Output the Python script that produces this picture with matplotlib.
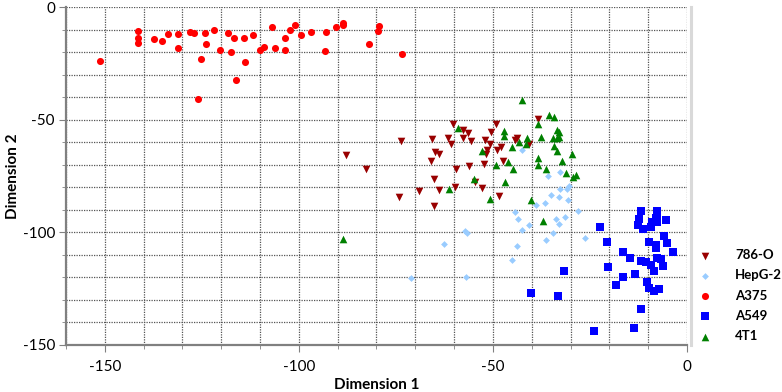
import matplotlib
matplotlib.use("Agg")
import matplotlib.pyplot as plt
from matplotlib.ticker import MultipleLocator

plt.rcParams['font.family'] = ['Lato', 'DejaVu Sans']
plt.rcParams['axes.unicode_minus'] = False

# ---- data ----
o786_x = [-87.9, -82.8, -74.2, -73.7, -69.0, -66.0, -65.8, -65.1, -65.2, -65.0, -63.8, -63.8, -61.7,
          -60.9, -60.2, -59.8, -59.5, -57.7, -57.6, -56.3, -56.1, -55.7, -54.7, -52.7, -52.3, -52.0,
          -51.9, -51.4, -50.7, -50.5, -49.1, -49.0, -48.0, -48.4, -47.5, -44.3, -43.7, -40.6, -38.4]
o786_y = [-65.7, -72.0, -84.4, -59.6, -81.6, -68.3, -58.4, -76.1, -88.3, -64.5, -65.4, -81.2, -58.1,
          -61.0, -51.8, -79.7, -71.9, -54.5, -57.9, -56.1, -70.5, -59.5, -77.8, -80.2, -69.6, -59.1,
          -65.2, -63.4, -60.9, -55.3, -51.7, -63.5, -62.2, -83.9, -68.2, -58.9, -58.0, -61.0, -49.7]

hepg2_x = [-71.1, -62.6, -57.1, -56.7, -56.9, -45.1, -44.2, -43.6, -43.8, -42.6, -42.4, -40.8, -38.8,
           -36.6, -36.3, -35.7, -35.0, -34.6, -33.8, -33.0, -32.9, -32.7, -32.7, -31.5, -31.0, -30.4,
           -30.6, -28.1, -26.3]
hepg2_y = [-120.1, -105.2, -99.6, -100.5, -119.9, -112.4, -91.1, -94.2, -105.9, -63.4, -98.8, -96.8, -87.9,
           -86.8, -103.4, -75.0, -83.6, -100.2, -94.2, -96.3, -84.2, -73.4, -80.6, -93.3, -80.9, -79.4,
           -85.8, -90.4, -102.4]

a375_x = [-151.2, -141.5, -141.5, -141.5, -137.2, -135.3, -133.6, -131.1, -131.1, -128.1, -127.0, -125.2,
          -126.1, -124.2, -124.0, -121.9, -120.4, -118.3, -117.4, -116.7, -116.1, -114.2, -113.9, -111.7,
          -109.9, -108.9, -106.9, -106.2, -103.7, -103.6, -102.4, -101.0, -99.5, -96.9, -93.2, -92.9,
          -90.4, -88.6, -88.6, -82.0, -79.7, -79.3, -73.3]
a375_y = [-23.8, -10.7, -13.8, -16.1, -14.1, -15.0, -11.8, -12.1, -18.3, -11.2, -11.5, -22.9,
          -41.0, -11.4, -16.6, -10.1, -19.2, -11.5, -19.8, -13.8, -32.4, -13.8, -24.3, -12.3,
          -19.1, -17.8, -8.7, -18.1, -13.8, -19.2, -10.4, -7.8, -12.4, -11.0, -19.5, -11.2,
          -8.7, -7.2, -8.1, -16.6, -10.7, -8.3, -20.9]

a549_x = [-11.8, -7.7, -7.8, -8.1, -12.3, -9.0, -7.6, -5.3, -12.5, -11.3, -9.3, -22.4, -20.7, -9.8,
          -5.8, -5.2, -8.1, -7.9, -3.7, -16.6, -14.6, -11.8, -10.5, -7.6, -6.7, -9.3, -8.5, -6.3,
          -20.4, -13.4, -16.5, -18.2, -10.3, -9.7, -8.5, -7.3, -11.8, -13.6, -23.9, -31.8, -40.2, -33.2]
a549_y = [-90.4, -90.4, -92.3, -93.8, -94.2, -95.3, -95.3, -94.7, -96.8, -98.5, -97.5, -97.5, -104.2, -104.2,
          -101.8, -104.6, -105.6, -106.8, -108.9, -108.6, -111.3, -112.7, -113.0, -111.3, -111.9, -114.5, -117.0, -115.1,
          -115.4, -118.5, -119.7, -123.4, -122.1, -124.6, -125.9, -125.2, -133.9, -142.5, -144.0, -117.2, -126.8, -128.3]

t41_x = [-88.6, -61.4, -59.1, -54.8, -52.9, -50.7, -49.2, -47.1, -47.1, -47.0, -46.0, -45.0, -44.7,
         -43.4, -42.6, -41.5, -41.2, -40.2, -38.4, -38.5, -38.4, -37.6, -37.1, -36.3, -35.6, -34.3,
         -34.3, -34.4, -33.6, -33.5, -33.5, -32.9, -32.9, -32.3, -31.2, -29.7, -29.4, -28.7]
t41_y = [-103.1, -80.8, -53.6, -76.2, -64.0, -85.3, -70.0, -55.2, -57.1, -77.6, -68.6, -62.3, -72.0,
         -59.7, -41.2, -60.7, -57.9, -85.5, -51.8, -66.8, -70.0, -57.6, -95.0, -71.8, -48.1, -48.8,
         -61.8, -58.3, -63.9, -54.6, -58.0, -55.4, -57.6, -68.5, -73.8, -65.2, -75.3, -74.7]

series_names = ['786-O', 'HepG-2', 'A375', 'A549', '4T1']

fig = plt.figure(figsize=(7.82, 3.92), dpi=100)
ax = fig.add_axes([0.0844, 0.1199, 0.7941, 0.8621])

ax.scatter(o786_x, o786_y, marker='v', s=30, color='#990000', label=series_names[0], zorder=3, linewidths=0)
ax.scatter(hepg2_x, hepg2_y, marker='D', s=12, color='#99ccff', label=series_names[1], zorder=3, linewidths=0)
ax.scatter(a375_x, a375_y, marker='o', s=26, color='#ff0000', label=series_names[2], zorder=3, linewidths=0)
ax.scatter(a549_x, a549_y, marker='s', s=28, color='#0000ff', label=series_names[3], zorder=3, linewidths=0)
ax.scatter(t41_x, t41_y, marker='^', s=30, color='#008000', label=series_names[4], zorder=3, linewidths=0)

ax.set_xlim(-160, 0)
ax.set_ylim(-150, 0)
ax.xaxis.set_major_locator(MultipleLocator(50))
ax.yaxis.set_major_locator(MultipleLocator(50))
ax.xaxis.set_minor_locator(MultipleLocator(10))
ax.yaxis.set_minor_locator(MultipleLocator(10))
ax.grid(True, which='both', linestyle=(0, (1, 1)), linewidth=0.9, color='#555555', zorder=1)
ax.set_axisbelow(True)

for s in ['top', 'right']:
    ax.spines[s].set_visible(False)
for s in ['left', 'bottom']:
    ax.spines[s].set_color('#808080')
    ax.spines[s].set_linewidth(1.6)

# light shadow at the right edge of the plot area
ax.plot([1.006, 1.006], [0, 1], transform=ax.transAxes, color='#d9d9d9', lw=2.2,
        clip_on=False, zorder=0)

ax.tick_params(which='major', length=5, color='#808080', labelsize=11, pad=3)
ax.tick_params(which='minor', length=3, color='#808080')
ax.tick_params(axis='x', pad=6)

ax.set_xlabel('Dimension 1', fontsize=11, fontweight='bold', labelpad=3)
ax.set_ylabel('Dimension 2', fontsize=11, fontweight='bold', labelpad=2)

leg = ax.legend(loc='center left', bbox_to_anchor=(1.0177, 0.146), frameon=False,
                prop={'weight': 'bold', 'size': 9.5}, handlelength=1.0, handletextpad=1.8,
                labelspacing=0.62, borderpad=0, borderaxespad=0, scatterpoints=1)

fig.savefig('out.png', dpi=100)
